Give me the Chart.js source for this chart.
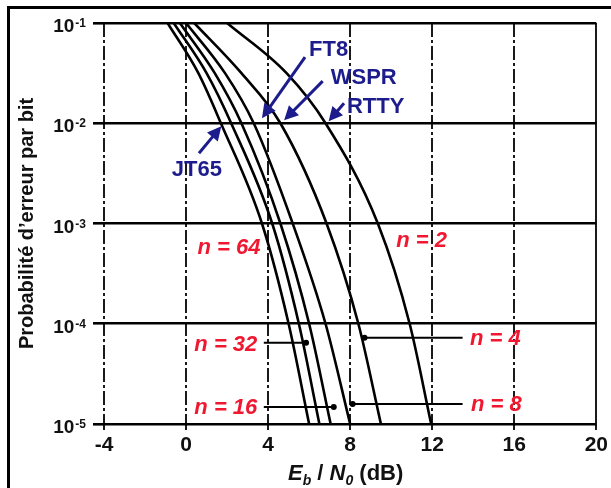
<!DOCTYPE html>
<html>
<head>
<meta charset="utf-8">
<script src="https://cdn.jsdelivr.net/npm/chart.js@4.4.0/dist/chart.umd.min.js"></script>
<style>
html, body { margin:0; padding:0; background:#fff; overflow:hidden; }
#wrap { position:relative; width:611px; height:488px; overflow:hidden; }
#frameTop { position:absolute; left:7px; top:6px; width:604px; height:3px; background:#000; }
#frameLeft { position:absolute; left:7px; top:6px; width:3px; height:482px; background:#000; }
canvas { position:absolute; left:0; top:0; }
</style>
</head>
<body>
<div id="wrap"><div id="frameTop"></div><div id="frameLeft"></div><canvas id="chart" width="611" height="488"></canvas></div>
<script>
// probabilite d'erreur (axe y) ou chaque courbe est lue
const berLevels = [1e-1, 0.0316, 1e-2, 1e-3, 1e-4, 1e-5];
// Eb/N0 (dB) lu pour chaque niveau
const ebn0_n64 = [-0.9, 0.6, 1.7, 3.7, 5.0, 6.0];
const ebn0_n32 = [-0.6, 1.0, 2.2, 4.2, 5.5, 6.5];
const ebn0_n16 = [-0.3, 1.4, 2.7, 4.6, 6.0, 7.05];
const ebn0_n8  = [0.0, 1.9, 3.3, 5.2, 6.8, 8.0];
const ebn0_n4  = [0.4, 2.7, 4.6, 6.85, 8.4, 9.5];
const ebn0_n2  = [2.0, 4.9, 6.8, 9.35, 10.9, 11.95];
const seriesNames = ['n = 64', 'n = 32', 'n = 16', 'n = 8', 'n = 4', 'n = 2'];
const seriesData = [ebn0_n64, ebn0_n32, ebn0_n16, ebn0_n8, ebn0_n4, ebn0_n2];

const xTicks = [-4, 0, 4, 8, 12, 16, 20];
const yTicks = [1e-5, 1e-4, 1e-3, 1e-2, 1e-1];
const yExponents = ['-5', '-4', '-3', '-2', '-1'];

const FONT = "'Liberation Sans', Arial, sans-serif";
const RED = '#f01830';
const NAVY = '#1c1c8c';

// etiquettes rouges : [texte, dB, log10(p)]
const redLabels = [
  ['n = 64', 2.09, -3.24], ['n = 32', 1.94, -4.21], ['n = 16', 1.94, -4.84],
  ['n = 2', 11.48, -3.17], ['n = 4', 15.08, -4.15], ['n = 8', 15.13, -4.81]
];
// traits de rappel : [dB debut, dB fin (sur la courbe), log10(p)]
const leaders = [
  [3.79, 5.85, -4.19], [3.79, 7.2, -4.83], [8.7, 13.48, -4.14], [8.12, 13.48, -4.8]
];
// fleches bleues : [texte, dB texte, log texte, dB depart, log depart, dB pointe, log pointe]
const arrows = [
  ['FT8', 6.95, -1.27, 5.8, -1.34, 3.7, -1.95],
  ['WSPR', 8.66, -1.55, 6.66, -1.58, 4.78, -1.97],
  ['RTTY', 9.24, -1.84, 7.7, -1.8, 6.95, -1.98],
  ['JT65', 0.53, -2.47, 0.63, -2.3, 1.72, -2.03]
];

const datasets = seriesData.map((arr, i) => ({
  label: seriesNames[i],
  data: arr.map((v, j) => ({ x: v, y: berLevels[j] })),
  borderColor: '#000',
  borderWidth: 2.6,
  pointRadius: 0,
  cubicInterpolationMode: 'monotone',
  fill: false
}));

function arrow(ctx, x1, y1, x2, y2) {
  const a = Math.atan2(y2 - y1, x2 - x1);
  const hl = 14, hw = 7;
  ctx.beginPath();
  ctx.moveTo(x1, y1);
  ctx.lineTo(x2 - Math.cos(a) * hl * 0.8, y2 - Math.sin(a) * hl * 0.8);
  ctx.stroke();
  ctx.beginPath();
  ctx.moveTo(x2, y2);
  ctx.lineTo(x2 - Math.cos(a) * hl - Math.sin(a) * hw, y2 - Math.sin(a) * hl + Math.cos(a) * hw);
  ctx.lineTo(x2 - Math.cos(a) * hl + Math.sin(a) * hw, y2 - Math.sin(a) * hl - Math.cos(a) * hw);
  ctx.closePath();
  ctx.fill();
}

const decor = {
  id: 'decor',
  afterDatasetsDraw(chart) {
    const { ctx, scales: { x, y } } = chart;
    const px = v => x.getPixelForValue(v);
    const py = l => y.getPixelForValue(Math.pow(10, l));
    ctx.save();
    // traits de rappel
    ctx.strokeStyle = '#000'; ctx.fillStyle = '#000'; ctx.lineWidth = 2;
    leaders.forEach(([a, b, l]) => {
      ctx.beginPath(); ctx.moveTo(px(a), py(l)); ctx.lineTo(px(b), py(l)); ctx.stroke();
      const ex = a < 5 ? px(b) : px(a);
      ctx.beginPath(); ctx.arc(ex, py(l), 3, 0, Math.PI * 2); ctx.fill();
    });
    // etiquettes rouges
    ctx.fillStyle = RED; ctx.font = 'italic bold 22px ' + FONT;
    ctx.textAlign = 'center'; ctx.textBaseline = 'middle';
    redLabels.forEach(([t, d, l]) => ctx.fillText(t, px(d), py(l)));
    // fleches bleues
    ctx.strokeStyle = NAVY; ctx.fillStyle = NAVY; ctx.lineWidth = 3;
    ctx.font = 'bold 22px ' + FONT;
    arrows.forEach(([t, td, tl, d1, l1, d2, l2]) => {
      ctx.fillText(t, px(td), py(tl));
      arrow(ctx, px(d1), py(l1), px(d2), py(l2));
    });
    ctx.restore();
  },
  afterDraw(chart) {
    const { ctx, scales: { x, y }, chartArea } = chart;
    ctx.save();
    ctx.fillStyle = '#111';
    // graduations y : 10 puissance
    yTicks.forEach((v, i) => {
      const yy = y.getPixelForValue(v);
      ctx.font = 'bold 12px ' + FONT;
      ctx.textAlign = 'right'; ctx.textBaseline = 'alphabetic';
      const ew = ctx.measureText(yExponents[i]).width;
      ctx.fillText(yExponents[i], 86, yy + 4);
      ctx.font = 'bold 19px ' + FONT;
      ctx.fillText('10', 86 - ew - 1, yy + 9);
    });
    // titre y
    ctx.save();
    ctx.translate(27, (chartArea.top + chartArea.bottom) / 2);
    ctx.rotate(-Math.PI / 2);
    ctx.font = 'bold 20px ' + FONT;
    ctx.textAlign = 'center'; ctx.textBaseline = 'middle';
    ctx.fillText('Probabilit\u00e9 d\u2019erreur par bit', 0, 0);
    ctx.restore();
    // titre x : Eb / N0 (dB)
    const parts = [
      ['E', 'italic bold 22px', 0], ['b', 'italic bold 14px', 5], [' / ', 'bold 22px', 0],
      ['N', 'italic bold 22px', 0], ['0', 'italic bold 14px', 5], [' (dB)', 'bold 22px', 0]
    ];
    let cx = 288;
    const base = 480;
    ctx.textAlign = 'left'; ctx.textBaseline = 'alphabetic';
    parts.forEach(([t, f, dy]) => {
      ctx.font = f + ' ' + FONT;
      ctx.fillText(t, cx, base + dy);
      cx += ctx.measureText(t).width;
    });
    ctx.restore();
  }
};

new Chart(document.getElementById('chart'), {
  type: 'line',
  data: { datasets },
  plugins: [decor],
  options: {
    responsive: false,
    animation: false,
    layout: { padding: { top: 23, right: 14, left: 0, bottom: 0 } },
    plugins: { legend: { display: false }, tooltip: { enabled: false } },
    scales: {
      x: {
        type: 'linear', min: -4, max: 20,
        afterBuildTicks: s => { s.ticks = xTicks.map(v => ({ value: v })); },
        afterFit: s => { s.height = 64; },
        ticks: { color: '#111', font: { family: FONT, size: 21, weight: 'bold' }, padding: 3, maxRotation: 0 },
        grid: { color: '#1a1a1a', lineWidth: 2, tickLength: 6 },
        border: { display: false, dash: c => (c.tick && c.tick.value === 20) ? [] : [14, 3, 3, 3] }
      },
      y: {
        type: 'logarithmic', min: 1e-5, max: 1e-1,
        afterBuildTicks: s => { s.ticks = yTicks.map(v => ({ value: v })); },
        afterFit: s => { s.width = 104; },
        ticks: { display: false },
        grid: { color: '#000', lineWidth: 2.6, tickLength: 11 },
        border: { display: false }
      }
    }
  }
});
</script>
</body>
</html>
